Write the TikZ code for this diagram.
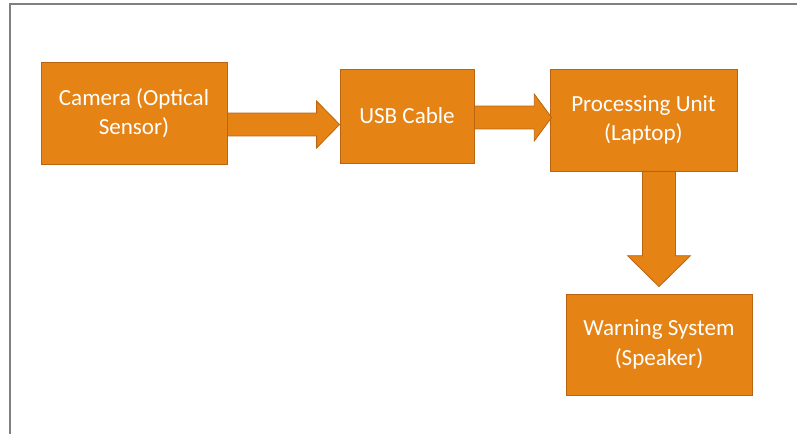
\documentclass[tikz,border=0pt]{standalone}
\usepackage{fontspec}
\setmainfont{Carlito}
\usetikzlibrary{calc}
\definecolor{boxfill}{RGB}{229,131,20}
\definecolor{boxline}{RGB}{186,100,18}
\definecolor{framegray}{RGB}{128,128,128}
\begin{document}
\begin{tikzpicture}[x=0.75pt,y=-0.75pt]
	\tikzset{block/.style={rectangle, draw=boxline, fill=boxfill, line width=0.6pt,
		text=white, align=center, inner sep=0pt, yshift=-1.5pt,
		font=\fontsize{17.3pt}{22pt}\selectfont}};
	\tikzset{hblock/.style={draw=boxline, fill=boxfill, line width=0.6pt,
		to path={let \p1=(\tikztostart), \p2=(\tikztotarget) in
		(\x1,\y1+8.6pt) -- (\x2-#1,\y1+8.6pt) -- (\x2-#1,\y1+17.6pt) -- (\x2,\y1)
		-- (\x2-#1,\y1-17.6pt) -- (\x2-#1,\y1-8.6pt) -- (\x1,\y1-8.6pt) -- cycle}}};
	\tikzset{vblock/.style={draw=boxline, fill=boxfill, line width=0.6pt,
		to path={let \p1=(\tikztostart), \p2=(\tikztotarget) in
		(\x1-12.4pt,\y1) -- (\x1-12.4pt,\y2+23.2pt) -- (\x1-23.6pt,\y2+23.2pt) -- (\x1,\y2)
		-- (\x1+23.6pt,\y2+23.2pt) -- (\x1+12.4pt,\y2+23.2pt) -- (\x1+12.4pt,\y1) -- cycle}}};
	\useasboundingbox (0,0) rectangle (797,434);
	% frame of the slide
	\draw[framegray, line width=1.5pt] (10,434) -- (10,4.5) -- (797,4.5);

	\node[block, minimum width=139.5pt, minimum height=76.5pt] (camera) at (134,111) {Camera (Optical\\Sensor)};
	\node[block, minimum width=100.5pt, minimum height=70.5pt] (usb) at (407,114) {USB Cable};
	\node[block, minimum width=140.25pt, minimum height=76.5pt] (laptop) at (643.5,118) {Processing Unit\\(Laptop)};
	\node[block, minimum width=139.5pt, minimum height=75.75pt] (speaker) at (659,342.5) {Warning System\\(Speaker)};

	\coordinate (a1) at ($(camera.east)+(0,11.5)$);
	\coordinate (a2) at ($(usb.east)+(0,1.5)$);
	\draw[hblock=17.25pt] (a1) to (usb.west |- a1);
	\draw[hblock=13pt] (a2) to ($(laptop.west |- a2)+(2,0)$);
	\draw[vblock] (laptop.south -| speaker) to ($(speaker.north)+(0,-7)$);
\end{tikzpicture}
\end{document}
